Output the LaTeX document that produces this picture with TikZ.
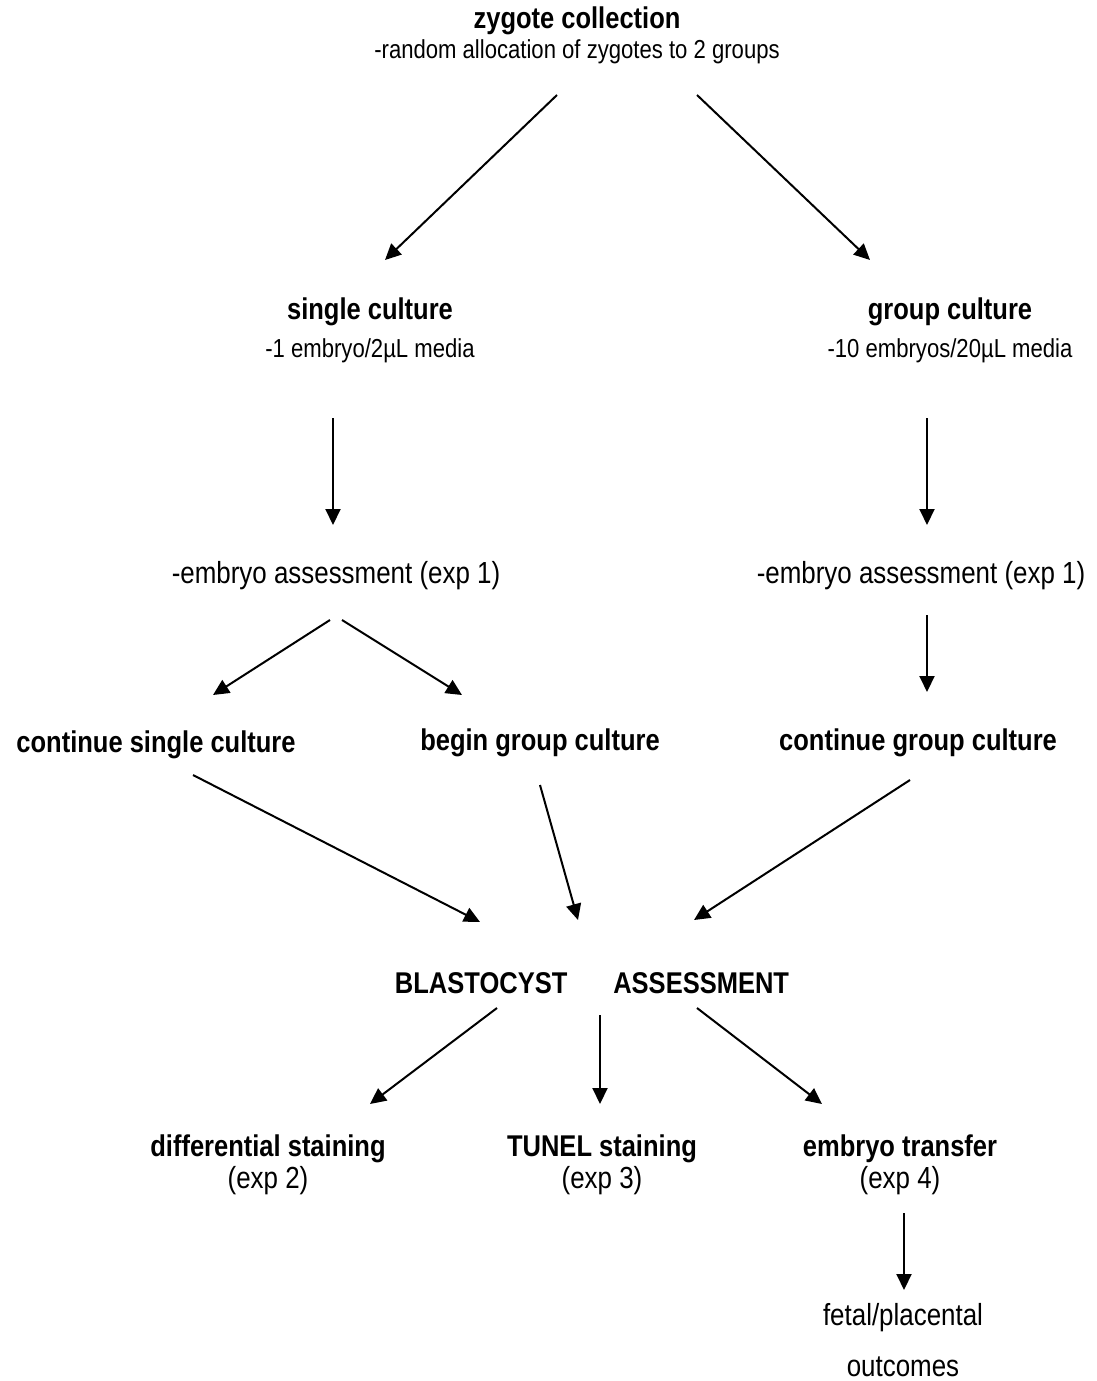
\documentclass[tikz,border=0pt]{standalone}
\usepackage{fontspec}
\setmainfont[FakeStretch=0.85]{Liberation Sans}
\usetikzlibrary{arrows.meta}

\newcommand{\hdtext}[1]{\textbf{\fontsize{30}{30}\selectfont #1}} % bold step name inside a label

\begin{document}
\begin{tikzpicture}[
  x=1pt, y=-1pt,
  txt/.style={inner sep=0pt, align=center, font=\fontsize{26}{30}\selectfont}, % plain labels
  big/.style={txt, font=\fontsize{30.5}{33}\selectfont}, % larger plain labels
  hd/.style={txt, font=\fontsize{30}{30}\selectfont\bfseries}, % bold step names
  flow/.style={line width=2pt, -{Triangle[length=16pt,width=15pt]}} % arrows
]

\useasboundingbox (0,0) rectangle (1096,1381);

% Start
\node[txt] (zygote) at (577,35) {\hdtext{zygote collection}\\[0pt]-random allocation of zygotes to 2 groups};

% Two culture groups
\node[txt] (single) at (370,330) {\hdtext{single culture}\\[8pt]-1 embryo/2µL media};
\node[txt] (group) at (950,330) {\hdtext{group culture}\\[8pt]-10 embryos/20µL media};

% Assessment
\node[big] (assessL) at (336,576) {-embryo assessment (exp 1)};
\node[big] (assessR) at (921,576) {-embryo assessment (exp 1)};

% Continue or switch
\node[hd] (contSingle) at (156,745) {continue single culture};
\node[hd] (beginGroup) at (540,743) {begin group culture};
\node[hd] (contGroup) at (918,743) {continue group culture};

% Blastocyst stage
\node[hd] (blast) at (592,983) {BLASTOCYST\hspace{46pt}ASSESSMENT};

% Experiments
\node[big] (diff) at (268,1165) {\hdtext{differential staining}\\[-1pt](exp 2)};
\node[big] (tunel) at (602,1165) {\hdtext{TUNEL staining}\\[-1pt](exp 3)};
\node[big] (transfer) at (900,1165) {\hdtext{embryo transfer}\\[-1pt](exp 4)};
\node[big] (outcome) at (903,1340) {fetal/placental\\[18pt]outcomes};

% Arrows
\draw[flow] ([shift={(-20,60)}]zygote.center) -- ([shift={(15,-70)}]single.center);
\draw[flow] ([shift={(120,60)}]zygote.center) -- ([shift={(-80,-70)}]group.center);
\draw[flow] ([shift={(-37,88)}]single.center) -- ([shift={(-3,-51)}]assessL.center);
\draw[flow] ([shift={(-23,88)}]group.center) -- ([shift={(6,-51)}]assessR.center);
\draw[flow] ([shift={(-6,44)}]assessL.center) -- ([shift={(57,-50)}]contSingle.center);
\draw[flow] ([shift={(6,44)}]assessL.center) -- ([shift={(-78,-48)}]beginGroup.center);
\draw[flow] ([shift={(6,39)}]assessR.center) -- ([shift={(9,-51)}]contGroup.center);
\draw[flow] ([shift={(37,30)}]contSingle.center) -- ([shift={(-112,-61)}]blast.center);
\draw[flow] ([shift={(0,42)}]beginGroup.center) -- ([shift={(-14,-63)}]blast.center);
\draw[flow] ([shift={(-8,37)}]contGroup.center) -- ([shift={(102,-63)}]blast.center);
\draw[flow] ([shift={(-95,25)}]blast.center) -- ([shift={(102,-61)}]diff.center);
\draw[flow] ([shift={(8,32)}]blast.center) -- ([shift={(-2,-61)}]tunel.center);
\draw[flow] ([shift={(105,25)}]blast.center) -- ([shift={(-78,-61)}]transfer.center);
\draw[flow] ([shift={(4,48)}]transfer.center) -- ([shift={(1,-50)}]outcome.center);

\end{tikzpicture}
\end{document}
